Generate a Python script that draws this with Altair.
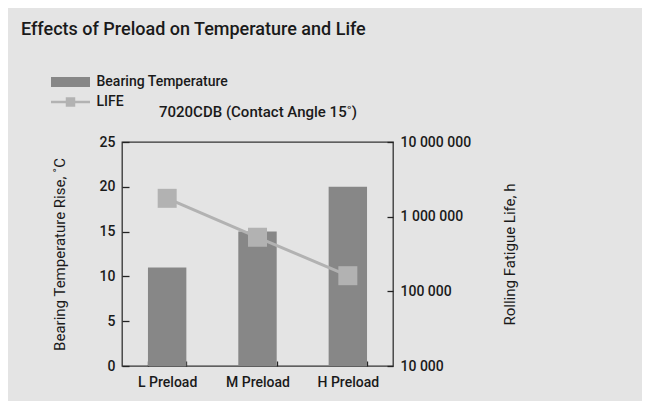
import altair as alt
import pandas as pd

# ---- data ----
categories = ["L Preload", "M Preload", "H Preload"]
temperature_rise = [11, 15, 20]
fatigue_life = [1760000, 530000, 162000]

temp_ticks = [0, 5, 10, 15, 20, 25]
life_ticks = [10000, 100000, 1000000, 10000000]
life_tick_labels = ["10 000", "100 000", "1 000 000", "10 000 000"]

series_names = ["Bearing Temperature", "LIFE"]
series_colors = ["#878787", "#b2b2b2"]

title_text = "Effects of Preload on Temperature and Life"
subtitle_text = "7020CDB (Contact Angle 15˚)"
left_title = "Bearing Temperature Rise, ˚C"
right_title = "Rolling Fatigue Life, h"

FONT = "Roboto"
TXT = "#1a1a1a"

df = pd.DataFrame({
    "preload": categories,
    "temp": temperature_rise,
    "life": fatigue_life,
    "bar_series": [series_names[0]] * len(categories),
    "line_series": [series_names[1]] * len(categories),
})

life_label_expr = " : ".join(
    f"datum.value == {v} ? '{l}'" for v, l in zip(life_ticks, life_tick_labels)
) + " : datum.label"

temp_path = "M-3.9,-1H3.9V1H-3.9Z"
life_path = "M-3.9,-0.25H3.9V0.25H-3.9Z M-0.95,-0.95H0.95V0.95H-0.95Z"


def make_legend(symbol_path, ly):
    return alt.Legend(
        orient="none", legendX=-58.5, legendY=ly, title=None, padding=0,
        symbolType=symbol_path, symbolSize=100, symbolStrokeWidth=0, symbolOpacity=1,
        labelOffset=19,
        labelFont=FONT, labelFontSize=14, labelFontWeight=500, labelColor=TXT,
    )


x_enc = alt.X(
    "preload:N", sort=categories,
    scale=alt.Scale(paddingInner=0.575, paddingOuter=0.2875),
    axis=alt.Axis(title=None, tickBand="extent", tickSize=5, offset=-5, domain=False,
                  labelPadding=9, labelAngle=0, labelFontSize=14, labelFontWeight=500,
                  tickColor="#222", tickWidth=1.3),
)

left_axis = alt.Axis(
    values=temp_ticks, tickSize=7, offset=-7, domain=False, grid=False,
    labelPadding=7, labelFontSize=14, labelFontWeight=500,
    title=left_title, titleFontSize=15, titleFontWeight="normal",
    titleX=-69.5, titleY=112, titleAngle=270, titleAlign="center", titleBaseline="middle",
    tickColor="#222", tickWidth=1.3,
)

right_axis = alt.Axis(
    orient="right", values=life_ticks, labelExpr=life_label_expr,
    tickSize=6, offset=-6, domain=False, grid=False,
    labelPadding=7, labelFontSize=14, labelFontWeight=500,
    title=right_title, titleFontSize=15, titleFontWeight="normal",
    titleX=122, titleY=112, titleAngle=270, titleAlign="center", titleBaseline="middle",
    tickColor="#222", tickWidth=1.3,
)

bars = alt.Chart(df).mark_bar().encode(
    x=x_enc,
    y=alt.Y("temp:Q", scale=alt.Scale(domain=[0, 25], nice=False), axis=left_axis),
    fill=alt.Fill("bar_series:N",
                  scale=alt.Scale(domain=[series_names[0]], range=[series_colors[0]]),
                  legend=make_legend(temp_path, -67)),
)

y_life = alt.Y("life:Q", scale=alt.Scale(type="log", domain=[10000, 10000000], nice=False),
               axis=right_axis)
life_color = alt.Color("line_series:N",
                       scale=alt.Scale(domain=[series_names[1]], range=[series_colors[1]]),
                       legend=make_legend(life_path, -47))

line = alt.Chart(df).mark_line(strokeWidth=3).encode(x=x_enc, y=y_life, color=life_color)
points = alt.Chart(df).mark_point(shape="square", filled=True, size=361, opacity=1).encode(
    x=x_enc, y=y_life, color=life_color)
life = alt.layer(line, points)

subtitle = alt.Chart(pd.DataFrame({"t": [subtitle_text]})).mark_text(
    align="left", baseline="alphabetic", font=FONT, fontSize=15, fontWeight=500, color=TXT
).encode(text="t:N", x=alt.value(37), y=alt.value(-25))

chart = alt.layer(bars, life, subtitle).resolve_scale(y="independent").properties(
    width=271, height=224,
    autosize=alt.AutoSizeParams(type="none"),
    padding={"left": 114, "top": 134, "right": 249, "bottom": 35},
    background="#e4e4e4",
    title=alt.TitleParams(text=title_text, anchor="start", frame="group", dx=-101, offset=36,
                          font=FONT, fontSize=18, fontWeight=500, color=TXT),
).configure_view(stroke="#333333", strokeWidth=1.3).configure_axis(
    labelFont=FONT, titleFont=FONT, labelColor=TXT, titleColor=TXT
)

chart.save("out.html", embed_options={"renderer": "svg", "actions": False})
